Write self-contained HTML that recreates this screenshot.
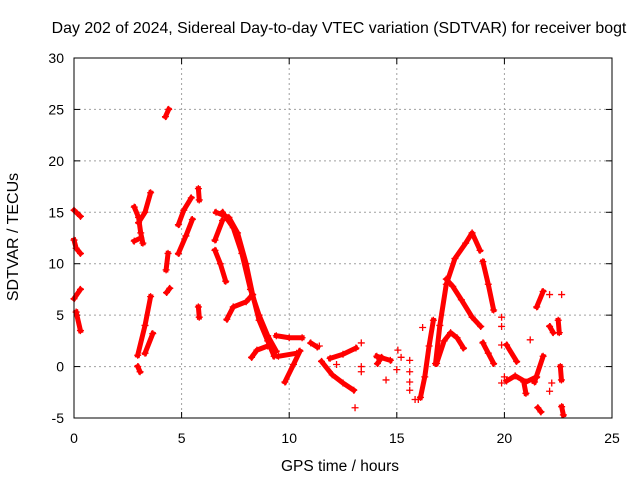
<!DOCTYPE html>
<html><head><meta charset="utf-8"><style>
body{margin:0;background:#fff}
svg{font-family:"Liberation Sans",sans-serif;font-size:14px}
</style></head><body>
<svg id="chart" width="640" height="480">
<rect width="640" height="480" fill="#fff"/>
<text x="339" y="33" text-anchor="middle" style="font-size:15.9px">Day 202 of 2024, Sidereal Day-to-day VTEC variation (SDTVAR) for receiver bogt</text>
<g id="grid"></g>
<g id="ticks"></g>
<g id="marks"></g>
<rect x="74" y="58" width="538" height="360" fill="none" stroke="#000" stroke-width="1"/>
<text x="340" y="471" text-anchor="middle" style="font-size:15.5px">GPS time / hours</text>
<text transform="translate(18,237) rotate(-90)" text-anchor="middle" style="font-size:16px">SDTVAR / TECUs</text>
</svg>
<script>
const xTicks=[0,5,10,15,20,25];
const yTicks=[-5,0,5,10,15,20,25,30];
const tracks=[
[[0,15.2],[0.3,14.6]],
[[0,12.3],[0.1,11.5],[0.3,11]],
[[0,6.6],[0.3,7.5]],
[[0.1,5.3],[0.3,3.5]],
[[2.96,1.1],[3.3,4],[3.56,6.8]],
[[3.3,1.3],[3.66,3.2]],
[[2.96,0],[3.07,-0.5]],
[[2.8,15.5],[3.0,14.5],[3.1,13],[3.2,12]],
[[3.0,14],[3.3,15],[3.56,16.9]],
[[2.8,12.2],[3.1,12.5]],
[[4.25,24.3],[4.4,25]],
[[4.37,11],[4.28,9.4]],
[[4.3,7.2],[4.45,7.6]],
[[4.85,11],[5.2,12.7],[5.5,14.3]],
[[4.85,13.8],[5.1,15.2],[5.45,16.4]],
[[5.78,17.3],[5.82,16.2]],
[[5.78,5.8],[5.82,4.8]],
[[6.6,15],[7.2,14.5],[7.6,13],[8.0,10],[8.3,7],[8.6,4.5],[9.0,2.5],[9.3,1]],
[[6.9,15],[7.4,13.5],[7.8,11],[8.2,7.5],[8.6,5],[9.0,3],[9.4,1.5]],
[[6.55,12.3],[6.9,14.2]],
[[6.55,11.3],[6.8,10],[7.05,8.3]],
[[7.1,4.6],[7.4,5.8],[8.0,6.3],[8.3,7]],
[[8.25,0.9],[8.5,1.6],[9.0,2]],
[[9.4,3],[10.0,2.8],[10.6,2.8]],
[[9.5,1.0],[10.35,1.3]],
[[9.8,-1.5],[10.2,0.2],[10.5,1.5]],
[[11,2.3],[11.3,1.9]],
[[11.5,0.5],[12.0,-0.8],[12.5,-1.6],[13.0,-2.3]],
[[11.9,0.8],[12.5,1.2],[13.1,1.8]],
[[14.07,1.0],[14.7,0.6]],
[[14.1,0.3],[14.3,0.9]],
[[16.1,-3],[16.3,-1],[16.5,2],[16.7,4.5]],
[[16.8,0.3],[17.0,4],[17.3,8],[17.7,10.5],[18.2,12],[18.5,13],[18.87,11.3]],
[[17.3,8.5],[17.6,7.8],[18.0,6.5],[18.5,4.8],[18.9,3.9]],
[[16.85,0.3],[17.2,2.5],[17.5,3.3],[17.8,2.8],[18.1,1.8]],
[[19.0,10.2],[19.25,8],[19.5,5.5]],
[[19.0,2.3],[19.25,1.3],[19.5,0.3]],
[[20.1,2.1],[20.57,0.5]],
[[20.1,-1.4],[20.5,-0.9],[21.0,-1.5],[21.5,-1]],
[[20.9,-1.5],[21.0,-2.6]],
[[21.4,-1.5],[21.8,1]],
[[21.5,5.8],[21.8,7.3]],
[[22.1,3.9],[22.27,3.3]],
[[22.5,4.5],[22.55,3.3]],
[[22.6,0],[22.65,-1.3]],
[[21.55,-4.0],[21.7,-4.4]],
[[22.66,-3.9],[22.74,-4.7]]
];
const singles=[[13.35,2.3],[13.35,0],[13.35,-0.5],[13.06,-4],[14.5,-1.3],[15.05,1.6],[15.6,0.6],[15.6,-0.5],[15.6,-1.5],[15.6,-2.3],[15.85,-3.2],[19.87,4.8],[19.87,3.9],[19.87,2.1],[19.87,-1.6],[22.1,7.0],[22.66,7],[22.1,-2.4],[22.2,-1.6],[21.2,2.6],[11.4,2.0],[12.2,0.2],[15.2,0.9],[15.0,-0.3],[16.2,3.8],[16.0,-3.2],[20.0,-1.0]];
const NS="http://www.w3.org/2000/svg";
const X=h=>74+h*538/25, Y=v=>418-(v+5)*360/35;
const grid=document.getElementById('grid'),ticks=document.getElementById('ticks'),marks=document.getElementById('marks');
function mk(tag,at,parent){const e=document.createElementNS(NS,tag);for(const k in at)e.setAttribute(k,at[k]);parent.appendChild(e);return e;}
xTicks.forEach(t=>{const x=X(t);
 if(t>0&&t<25){const g=mk('line',{x1:x,y1:58,x2:x,y2:418,stroke:'#a0a0a0','stroke-dasharray':'2,3'},grid);
 
 }
 mk('line',{x1:x,y1:418,x2:x,y2:412,stroke:'#000'},ticks);mk('line',{x1:x,y1:58,x2:x,y2:64,stroke:'#000'},ticks);
 const l=mk('text',{x:x,y:443,'text-anchor':'middle'},ticks);l.textContent=t;
 
 });
yTicks.forEach(t=>{const y=Y(t);
 if(t>-5&&t<30){const g=mk('line',{x1:74,y1:y,x2:612,y2:y,stroke:'#a0a0a0','stroke-dasharray':'2,3'},grid);
 
 }
 mk('line',{x1:74,y1:y,x2:80,y2:y,stroke:'#000'},ticks);mk('line',{x1:612,y1:y,x2:606,y2:y,stroke:'#000'},ticks);
 const l=mk('text',{x:64,y:y+5,'text-anchor':'end'},ticks);l.textContent=t;
 
 });
function plus(h,v){const x=X(h),y=Y(v);
 const p=mk('path',{d:`M${x-3.5},${y}H${x+3.5}M${x},${y-3.5}V${y+3.5}`,stroke:'#f00','stroke-width':1.3},marks);
 
 }
tracks.forEach(tr=>{
 const pl=mk('polyline',{points:tr.map(p=>X(p[0])+','+Y(p[1])).join(' '),fill:'none',stroke:'#f00','stroke-width':5,'stroke-linejoin':'round','stroke-linecap':'square'},marks);
 
 
 tr.forEach(p=>plus(p[0],p[1]));});
singles.forEach(p=>plus(p[0],p[1]));
</script>
</body></html>
